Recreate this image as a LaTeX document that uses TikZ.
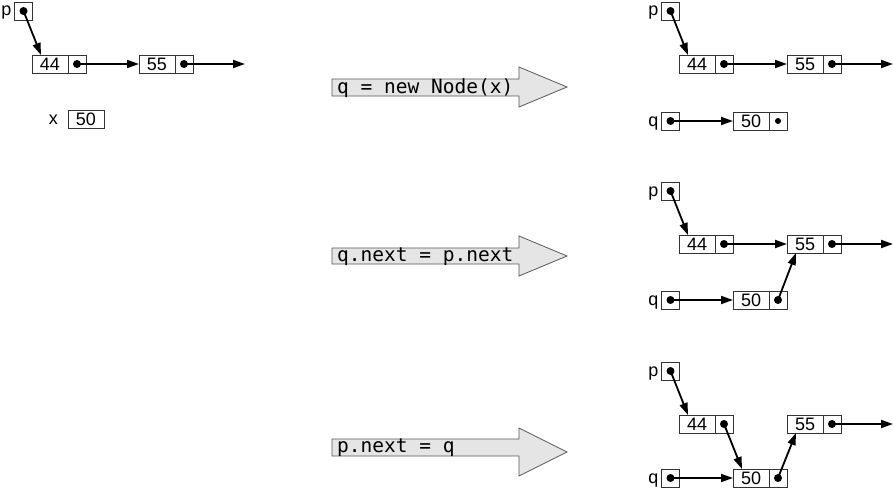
\documentclass[tikz,border=0pt]{standalone}
\usepackage{fontspec}
\setsansfont{Liberation Sans}
\setmonofont{DejaVu Sans Mono}
\usetikzlibrary{positioning,arrows.meta}
\tikzset{
  valcell/.style={draw=black!80,line width=0.8pt,minimum width=36pt,minimum height=18pt,
    inner sep=0pt,outer sep=0pt,font=\sffamily\fontsize{18}{21}\selectfont},
  ptrcell/.style={draw=black!80,line width=0.8pt,minimum width=18pt,minimum height=18pt,
    inner sep=0pt,outer sep=0pt},
  lbl/.style={inner sep=0pt,anchor=base east,font=\sffamily\fontsize{18}{21}\selectfont},
  link/.style={line width=1.8pt,-{Triangle[length=12pt,width=8pt]}},
  bigarrow/.style={fill=black!10,draw=black!65,line width=0.8pt},
  code/.style={anchor=west,inner sep=0pt,font=\ttfamily\fontsize{19.5}{23}\selectfont}
}
\begin{document}
\begin{tikzpicture}[x=1pt,y=-1pt]
	\useasboundingbox (0,0) rectangle (893,487);
	\clip (0,0) rectangle (893,487);
	% start
	\node[ptrcell] (ppA) at (23.5,11) {};
	\node[lbl] (plA) at ([xshift=-3pt,yshift=-5pt]ppA.west) {p};
	\node[valcell] (v44A) at (50,64) {44};
	\node[ptrcell,right=0pt of v44A] (n44A) {};
	\node[valcell] (v55A) at (157,64) {55};
	\node[ptrcell,right=0pt of v55A] (n55A) {};
	\coordinate (endA) at (245,64);
	\node[valcell] (v50A) at (86,119) {50};
	\node[lbl] (xlA) at ([xshift=-10pt,yshift=-5pt]v50A.west) {x};
	\fill (ppA) circle[radius=4pt] (n44A) circle[radius=4pt] (n55A) circle[radius=4pt];
	\draw[link] (ppA.center) -- ([xshift=9pt]v44A.north west);
	\draw[link] (n44A.center) -- (v55A.west);
	\draw[link] (n55A.center) -- (endA);
	% the three steps
	\draw[bigarrow] (332,79) -- (519,79) -- (519,67) -- (567,87) -- (519,107) -- (519,96) -- (332,96) -- cycle;
	\node[code] (stepA) at (337,88) {q = new Node(x)};
	\draw[bigarrow] (332,248) -- (519,248) -- (519,236) -- (567,256) -- (519,276) -- (519,264) -- (332,264) -- cycle;
	\node[code] (stepB) at (337,257) {q.next = p.next};
	\draw[bigarrow] (332,439) -- (519,439) -- (519,428) -- (567,452) -- (519,476) -- (519,456) -- (332,456) -- cycle;
	\node[code] (stepC) at (337,448) {p.next = q};
	% after q = new Node(x)
	\node[ptrcell] (ppB) at (670.5,11) {};
	\node[lbl] (plB) at ([xshift=-3pt,yshift=-5pt]ppB.west) {p};
	\node[valcell] (v44B) at (697,64) {44};
	\node[ptrcell,right=0pt of v44B] (n44B) {};
	\node[valcell] (v55B) at (805,64) {55};
	\node[ptrcell,right=0pt of v55B] (n55B) {};
	\coordinate (endB) at (893,64);
	\node[ptrcell] (qqB) at (670.5,121) {};
	\node[lbl] (qlB) at ([xshift=-3pt,yshift=-5pt]qqB.west) {q};
	\node[valcell] (v50B) at (751,121) {50};
	\node[ptrcell,right=0pt of v50B] (n50B) {};
	\fill (ppB) circle[radius=4pt] (n44B) circle[radius=4pt] (n55B) circle[radius=4pt]
	      (qqB) circle[radius=4pt] (n50B) circle[radius=3pt];
	\draw[link] (ppB.center) -- ([xshift=9pt]v44B.north west);
	\draw[link] (n44B.center) -- (v55B.west);
	\draw[link] (n55B.center) -- (endB);
	\draw[link] (qqB.center) -- (v50B.west);
	% after q.next = p.next
	\node[ptrcell] (ppC) at (670.5,191) {};
	\node[lbl] (plC) at ([xshift=-3pt,yshift=-5pt]ppC.west) {p};
	\node[valcell] (v44C) at (697,244) {44};
	\node[ptrcell,right=0pt of v44C] (n44C) {};
	\node[valcell] (v55C) at (805,244) {55};
	\node[ptrcell,right=0pt of v55C] (n55C) {};
	\coordinate (endC) at (893,244);
	\node[ptrcell] (qqC) at (670.5,300) {};
	\node[lbl] (qlC) at ([xshift=-3pt,yshift=-5pt]qqC.west) {q};
	\node[valcell] (v50C) at (751,300) {50};
	\node[ptrcell,right=0pt of v50C] (n50C) {};
	\fill (ppC) circle[radius=4pt] (n44C) circle[radius=4pt] (n55C) circle[radius=4pt]
	      (qqC) circle[radius=4pt] (n50C) circle[radius=4pt];
	\draw[link] (ppC.center) -- ([xshift=9pt]v44C.north west);
	\draw[link] (n44C.center) -- (v55C.west);
	\draw[link] (n55C.center) -- (endC);
	\draw[link] (qqC.center) -- (v50C.west);
	\draw[link] (n50C.center) -- ([xshift=9pt]v55C.south west);
	% after p.next = q
	\node[ptrcell] (ppD) at (670.5,371) {};
	\node[lbl] (plD) at ([xshift=-3pt,yshift=-5pt]ppD.west) {p};
	\node[valcell] (v44D) at (697,424) {44};
	\node[ptrcell,right=0pt of v44D] (n44D) {};
	\node[valcell] (v55D) at (805,424) {55};
	\node[ptrcell,right=0pt of v55D] (n55D) {};
	\coordinate (endD) at (893,424);
	\node[ptrcell] (qqD) at (670.5,478) {};
	\node[lbl] (qlD) at ([xshift=-3pt,yshift=-5pt]qqD.west) {q};
	\node[valcell] (v50D) at (751,478) {50};
	\node[ptrcell,right=0pt of v50D] (n50D) {};
	\fill (ppD) circle[radius=4pt] (n44D) circle[radius=4pt] (n55D) circle[radius=4pt]
	      (qqD) circle[radius=4pt] (n50D) circle[radius=4pt];
	\draw[link] (ppD.center) -- ([xshift=9pt]v44D.north west);
	\draw[link] (n44D.center) -- ([xshift=9pt]v50D.north west);
	\draw[link] (n55D.center) -- (endD);
	\draw[link] (qqD.center) -- (v50D.west);
	\draw[link] (n50D.center) -- ([xshift=9pt]v55D.south west);
\end{tikzpicture}
\end{document}
